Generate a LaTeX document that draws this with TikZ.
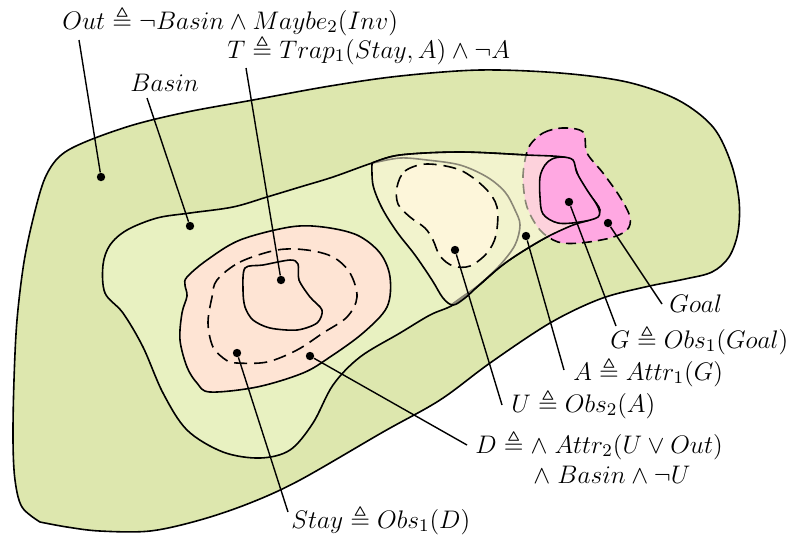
\RequirePackage{fix-cm}
\documentclass[tikz,border=0pt]{standalone}
\usepackage{amssymb}
\definecolor{outerC}{RGB}{221,231,174}
\definecolor{basinC}{RGB}{232,241,193}
\definecolor{peachC}{RGB}{254,228,212}
\definecolor{creamC}{RGB}{253,246,218}
\definecolor{pinkC}{RGB}{255,168,226}
\definecolor{aC}{RGB}{252,246,216}
\begin{document}
\begin{tikzpicture}[x=0.5pt,y=-0.5pt,
  region/.style={line width=0.8pt,draw=black,line join=round},
  dashreg/.style={line width=0.8pt,draw=black,dash pattern=on 6.5pt off 3.5pt},
  dot/.style={circle,fill=black,inner sep=0pt,minimum size=4.2pt},
  lbl/.style={inner sep=0pt,anchor=base west,font=\fontsize{12.7}{15}\selectfont},
  conn/.style={line width=0.7pt}]
\useasboundingbox (0,0) rectangle (796,538);
% outer region
\path[region,fill=outerC] plot[smooth,tension=0.55] coordinates {(40,522) (22,507) (15,480) (13,440) (14,380) (17,320) (24,262) (34,215) (45,178) (60,156) (85,142) (133,125) (187,112) (253,100) (330,86) (400,76) (480,70) (560,73) (627,82) (678,100) (713,127) (731,163) (739,200) (738,232) (729,257) (712,272) (685,279) (645,287) (600,299) (550,323) (490,363) (440,400) (383,432) (300,480) (250,503) (200,520) (150,531) (100,531) (67,527) (40,522)} -- cycle;
% basin
\path[region,fill=basinC] plot[smooth cycle,tension=0.55] coordinates {(372,163) (333,177) (300,187) (267,197) (233,207) (190,213) (157,218) (127,230) (110,245) (103,265) (105,293) (123,313) (143,347) (163,393) (187,430) (223,452) (260,458) (290,450) (313,423) (333,385) (360,357) (400,333) (430,315) (453,305) (477,287) (500,267) (520,253) (547,237) (573,225) (592,219) (600,210) (590,195) (580,180) (573,163) (563,157) (527,155) (460,152) (400,155)};
% gray loop (under the A fill)
\draw[line width=0.8pt] plot[smooth,tension=0.55] coordinates {(373,163) (400,158) (427,160) (460,165) (487,177) (505,192) (515,210) (520,225) (515,245) (500,265) (480,284) (462,297) (451,305)};
% goal
\path[dashreg,fill=pinkC,dash pattern=on 5pt off 3pt] plot[smooth cycle,tension=0.55] coordinates {(530,145) (543,133) (562,128) (583,132) (587,153) (603,173) (620,197) (630,217) (627,230) (610,238) (580,243) (558,242) (540,230) (527,207) (523,180) (525,160)};
% A region
\path[fill=aC,fill opacity=0.55] plot[smooth,tension=0.55] coordinates {(372,163) (373,185) (382,208) (397,232) (415,255) (432,280) (443,298) (453,305) (465,298) (477,287) (500,267) (520,253) (547,237) (573,225) (592,219) (600,210) (590,195) (580,180) (573,163) (563,157) (527,155) (460,152) (400,155) (372,163)} -- cycle;
\draw[region] plot[smooth,tension=0.55] coordinates {(372,163) (373,185) (382,208) (397,232) (415,255) (432,280) (443,298) (453,305) (465,298) (477,287) (500,267) (520,253) (547,237) (573,225) (592,219) (600,210) (590,195) (580,180) (573,163) (563,157) (527,155) (460,152) (400,155) (372,163)};
% U
\path[dashreg,fill=creamC] plot[smooth cycle,tension=0.55] coordinates {(397,187) (405,171) (427,164) (460,170) (485,188) (497,207) (496,235) (487,253) (470,266) (453,266) (440,256) (433,240) (425,228) (410,217) (398,204)};
% G
\path[region,fill=pinkC] plot[smooth cycle,tension=0.55] coordinates {(562,157) (573,160) (577,173) (587,190) (598,207) (598,217) (580,222) (558,223) (543,214) (540,197) (540,177) (545,165) (552,159)};
% D region
\path[region,fill=peachC] plot[smooth cycle,tension=0.55] coordinates {(187,277) (207,260) (240,240) (290,227) (323,227) (357,235) (380,253) (390,277) (387,307) (363,333) (330,357) (303,373) (257,387) (210,392) (197,383) (187,367) (180,340) (182,313) (187,296) (185,285)};
% Stay
\draw[dashreg] plot[smooth cycle,tension=0.55] coordinates {(217,280) (240,262) (277,250) (307,250) (333,257) (350,273) (357,297) (347,317) (323,333) (297,350) (267,362) (237,363) (226,360) (213,347) (208,323) (212,297)};
% T
\draw[region] plot[smooth cycle,tension=0.5] coordinates {(245,268) (263,265) (290,260) (298,264) (299,280) (310,297) (322,310) (317,323) (297,330) (270,328) (253,320) (245,307) (243,290)};
% dots
\node[dot] (outDot) at (101,177) {};
\node[dot] (basinDot) at (190,226) {};
\node[dot] (tDot) at (281,280) {};
\node[dot] (stayDot) at (237,353) {};
\node[dot] (dDot) at (310,356) {};
\node[dot] (uDot) at (455,250) {};
\node[dot] (aDot) at (526,236) {};
\node[dot] (gDot) at (569,202) {};
\node[dot] (goalDot) at (608,223) {};
% labels
\node[lbl] (outLbl) at (62,29) {$Out \triangleq \neg Basin \wedge Maybe_2(Inv)$};
\node[lbl] (tLbl) at (227,58) {$T \triangleq Trap_1(Stay, A) \wedge \neg A$};
\node[lbl] (basinLbl) at (130,91) {$Basin$};
\node[lbl] (goalLbl) at (669,312) {$Goal$};
\node[lbl] (gLbl) at (610,348) {$G \triangleq Obs_1(Goal)$};
\node[lbl] (aLbl) at (573,380) {$A \triangleq Attr_1(G)$};
\node[lbl] (uLbl) at (511,412) {$U \triangleq Obs_2(A)$};
\node[lbl] (dLbl) at (475,453) {$D \triangleq \wedge\; Attr_2(U \vee Out)$};
\node[lbl] (dLbl2) at (533,483) {$\wedge\; Basin \wedge \neg U$};
\node[lbl] (stayLbl) at (291,528) {$Stay \triangleq Obs_1(D)$};
% connector ends
\coordinate (outL) at (79,40);
\coordinate (basinL) at (147,98);
\coordinate (tL) at (246,68);
\coordinate (stayL) at (288,512);
\coordinate (dL) at (467,445);
\coordinate (uL) at (502,405);
\coordinate (aL) at (564,370);
\coordinate (gL) at (616,326);
\coordinate (goalL) at (662,304);
\draw[conn] (outL) -- (outDot);
\draw[conn] (basinL) -- (basinDot);
\draw[conn] (tL) -- (tDot);
\draw[conn] (stayL) -- (stayDot);
\draw[conn] (dL) -- (dDot);
\draw[conn] (uL) -- (uDot);
\draw[conn] (aL) -- (aDot);
\draw[conn] (gL) -- (gDot);
\draw[conn] (goalL) -- (goalDot);
\end{tikzpicture}
\end{document}
